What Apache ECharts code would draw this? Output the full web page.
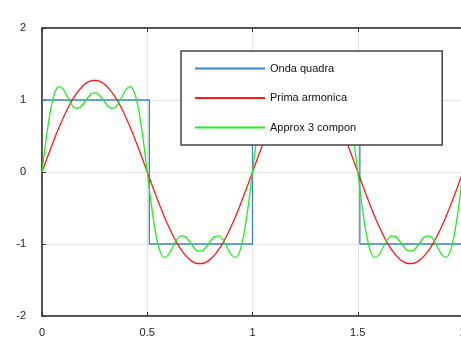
<!DOCTYPE html>
<html>
<head>
<meta charset="utf-8">
<script src="https://cdn.jsdelivr.net/npm/echarts@6/dist/echarts.min.js"></script>
<style>
    html, body { margin: 0; padding: 0; background: #fff; }
    #chart { width: 461px; height: 339px; }
</style>
</head>
<body>
<div id="chart"></div>
<script>
// legend names
let names = ['Onda quadra', 'Prima armonica', 'Approx 3 compon'];
let colors = ['#3d83c9', '#ff1a1a', '#22ee22'];

// x step for the sampled curves
let step = 0.02;

// onda quadra: corner points
let squareX = [0, 0.51, 0.51, 1.0, 1.0, 1.51, 1.51, 2];
let squareY = [1, 1, -1, -1, 1, 1, -1, -1];

// prima armonica, x = 0 .. 2 every 0.02
let firstY = [
    0, 0.160, 0.317, 0.469, 0.613, 0.748, 0.872, 0.981, 1.075, 1.152, 1.211, 1.251, 1.271,
    1.271, 1.251, 1.211, 1.152, 1.075, 0.981, 0.872, 0.748, 0.613, 0.469, 0.317, 0.160, 0,
    -0.160, -0.317, -0.469, -0.613, -0.748, -0.872, -0.981, -1.075, -1.152, -1.211, -1.251, -1.271,
    -1.271, -1.251, -1.211, -1.152, -1.075, -0.981, -0.872, -0.748, -0.613, -0.469, -0.317, -0.160, 0,
    0.160, 0.317, 0.469, 0.613, 0.748, 0.872, 0.981, 1.075, 1.152, 1.211, 1.251, 1.271,
    1.271, 1.251, 1.211, 1.152, 1.075, 0.981, 0.872, 0.748, 0.613, 0.469, 0.317, 0.160, 0,
    -0.160, -0.317, -0.469, -0.613, -0.748, -0.872, -0.981, -1.075, -1.152, -1.211, -1.251, -1.271,
    -1.271, -1.251, -1.211, -1.152, -1.075, -0.981, -0.872, -0.748, -0.613, -0.469, -0.317, -0.160, 0
];

// approx 3 componenti, x = 0 .. 2 every 0.02
let approxY = [
    0, 0.466, 0.849, 1.095, 1.187, 1.152, 1.049, 0.943, 0.886, 0.897, 0.962, 1.042, 1.096,
    1.096, 1.042, 0.962, 0.897, 0.886, 0.943, 1.049, 1.152, 1.187, 1.095, 0.849, 0.466, 0,
    -0.466, -0.849, -1.095, -1.187, -1.152, -1.049, -0.943, -0.886, -0.897, -0.962, -1.042, -1.096,
    -1.096, -1.042, -0.962, -0.897, -0.886, -0.943, -1.049, -1.152, -1.187, -1.095, -0.849, -0.466, 0,
    0.466, 0.849, 1.095, 1.187, 1.152, 1.049, 0.943, 0.886, 0.897, 0.962, 1.042, 1.096,
    1.096, 1.042, 0.962, 0.897, 0.886, 0.943, 1.049, 1.152, 1.187, 1.095, 0.849, 0.466, 0,
    -0.466, -0.849, -1.095, -1.187, -1.152, -1.049, -0.943, -0.886, -0.897, -0.962, -1.042, -1.096,
    -1.096, -1.042, -0.962, -0.897, -0.886, -0.943, -1.049, -1.152, -1.187, -1.095, -0.849, -0.466, 0
];

// coppie [x, y]
function pairs(ys) {
    return ys.map((y, i) => [+(i * step).toFixed(2), y]);
}

let myChart = echarts.init(document.getElementById('chart'));

let labelStyle = {
    color: '#222',
    fontSize: 11,
    fontFamily: 'Liberation Sans, Arial, sans-serif'
};

let option = {
    animation: false,
    grid: {
        left: 42,
        top: 28,
        width: 421,
        bottom: 23,
        containLabel: false,
        outerBoundsMode: 'none',
        show: true,
        borderColor: '#444',
        borderWidth: 1
    },
    legend: {
        data: names,
        orient: 'vertical',
        left: 181,
        top: 51,
        padding: [12, 86, 12, 14],
        itemWidth: 70,
        itemHeight: 2,
        itemGap: 18.5,
        icon: 'rect',
        backgroundColor: '#fff',
        borderColor: '#444',
        borderWidth: 1.5,
        textStyle: {
            color: '#111',
            fontSize: 11,
            fontFamily: 'Liberation Sans, Arial, sans-serif'
        }
    },
    xAxis: [
        {
            type: 'value',
            min: 0,
            max: 2,
            interval: 0.5,
            axisLine: { onZero: false, lineStyle: { color: '#333', width: 1.5 } },
            axisTick: { inside: true, length: 4, lineStyle: { color: '#333' } },
            axisLabel: Object.assign({ margin: 11 }, labelStyle),
            splitLine: { show: true, lineStyle: { color: '#e3e3e3' } }
        },
        {
            type: 'value',
            position: 'top',
            min: 0,
            max: 2,
            interval: 0.5,
            axisLine: { onZero: false, lineStyle: { color: '#333', width: 1.5 } },
            axisTick: { inside: true, length: 4, lineStyle: { color: '#333' } },
            axisLabel: { show: false },
            splitLine: { show: false }
        }
    ],
    yAxis: {
        type: 'value',
        min: -2,
        max: 2,
        interval: 1,
        axisLine: { show: true, onZero: false, lineStyle: { color: '#333', width: 1.5 } },
        axisTick: { show: true, inside: true, length: 4, lineStyle: { color: '#333' } },
        axisLabel: Object.assign({ margin: 16 }, labelStyle),
        splitLine: { show: true, lineStyle: { color: '#e3e3e3' } }
    },
    series: [
        {
            name: names[0],
            type: 'line',
            data: squareX.map((x, i) => [x, squareY[i]]),
            symbol: 'none',
            color: colors[0],
            lineStyle: { width: 1.3 }
        },
        {
            name: names[1],
            type: 'line',
            data: pairs(firstY),
            symbol: 'none',
            smooth: 0.3,
            color: colors[1],
            lineStyle: { width: 1.3 }
        },
        {
            name: names[2],
            type: 'line',
            data: pairs(approxY),
            symbol: 'none',
            smooth: 0.3,
            color: colors[2],
            lineStyle: { width: 1.3 }
        }
    ]
};

myChart.setOption(option);
</script>
</body>
</html>
